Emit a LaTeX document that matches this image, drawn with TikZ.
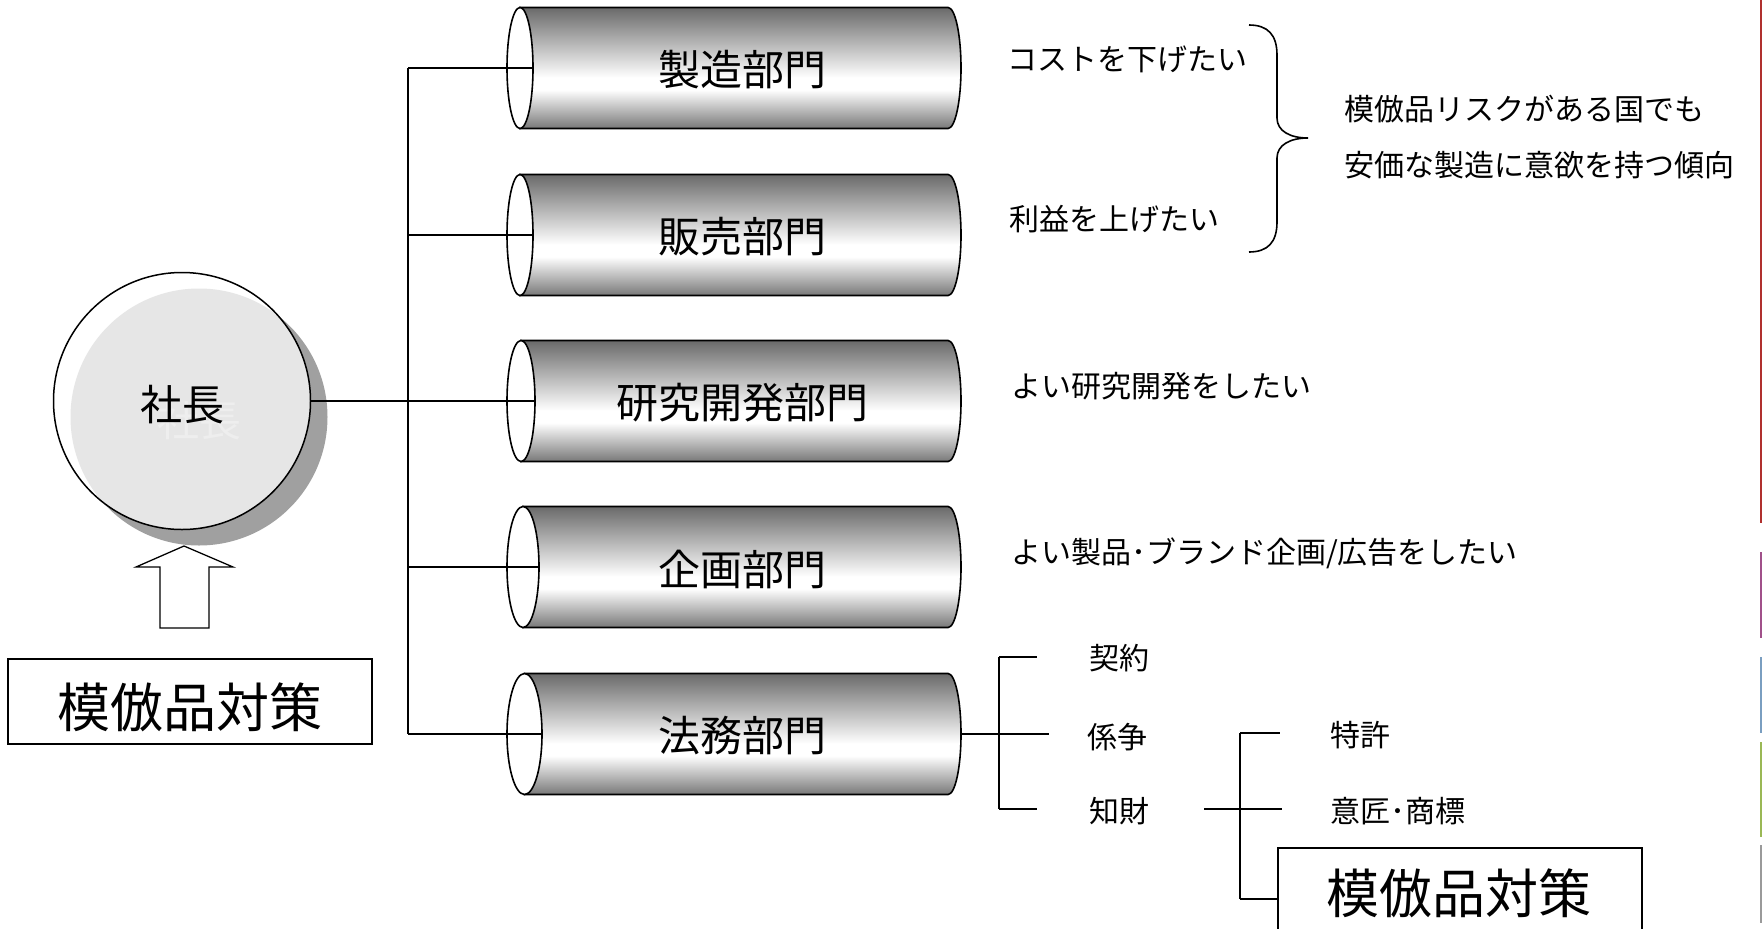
\documentclass[tikz,border=0pt]{standalone}
\usepackage{fontspec}
\setmainfont{Noto Sans CJK JP}
\definecolor{cyltop}{HTML}{6A6A6A}
\definecolor{cylbot}{HTML}{787878}
\definecolor{shadowgray}{HTML}{A0A0A0}
\definecolor{innergray}{HTML}{E6E6E6}
\definecolor{ghostgray}{HTML}{EEEEEE}
\definecolor{barred}{HTML}{B0302E}
\definecolor{barpurple}{HTML}{A0508A}
\definecolor{barblue}{HTML}{7A9EC0}
\definecolor{bargreen}{HTML}{9AB855}
\definecolor{bargray}{HTML}{9A9A9A}
\pgfdeclareverticalshading{cylshade}{100bp}{color(0bp)=(cylbot); color(25bp)=(cylbot); color(41bp)=(white); color(46bp)=(white); color(75bp)=(cyltop); color(100bp)=(cyltop)}
\tikzset{
  cyltext/.style={inner sep=0pt, font=\fontsize{42}{48}\selectfont},
  lbl/.style={inner sep=0pt, anchor=west, font=\fontsize{30}{36}\selectfont},
  bigtext/.style={inner sep=0pt, font=\fontsize{53}{60}\selectfont},
  branch/.style={line width=1.2pt},
  trunkline/.style={line width=1.5pt},
  thickline/.style={line width=2.2pt},
  bracket/.style={line width=1.6pt},
  outline/.style={line width=1.6pt},
  boxline/.style={draw, line width=1.3pt}
}
\newcommand{\cylnode}[4]{%
  \begin{scope}[shift={(0,#2)}]
    \shade[shading=cylshade, draw=black, outline]
      ({507+#3},-60.5) -- (948,-60.5)
      .. controls (955.2,-60.5) and (961,-33.4) .. (961,0)
      .. controls (961,33.4) and (955.2,60.5) .. (948,60.5)
      -- ({507+#3},60.5) -- cycle;
    \draw[outline, fill=white] ({507+#3},0) ellipse [x radius=#3, y radius=60.5];
    \node[cyltext] (#1) at (742,2) {#4};
    \coordinate (#1-in) at ({507+2*#3},0);
    \coordinate (#1-out) at (961,0);
    \coordinate (#1-t) at (408,0);
  \end{scope}}
\begin{document}
\begin{tikzpicture}[x=1pt,y=-1pt]
\useasboundingbox (0,0) rectangle (1762,929);
\clip (0,0) rectangle (1762,929);
\fill[white] (0,0) rectangle (1762,929);

% president circle
\fill[shadowgray] (199,417) circle[radius=128.5];
\begin{scope}
  \clip (182,401) circle[radius=128.5];
  \fill[white] (182,401) circle[radius=128.5];
  \fill[innergray] (199,417) circle[radius=128.5];
  \node[cyltext, text=ghostgray] (ghost) at (199,421) {社長};
\end{scope}
\node[circle, draw, line width=1.5pt, minimum size=257pt, inner sep=0pt] (boss) at (182,401) {};
\node[cyltext] (bosslabel) at (182,405) {社長};

% up arrow
\draw[line width=1.3pt, fill=white] (160,628) -- (160,567) -- (136,567) -- (184,546) -- (233,567) -- (209,567) -- (209,628) -- cycle;

% left box
\node[boxline, minimum width=364pt, minimum height=85pt, inner sep=0pt] (box1) at (190,701.5) {};
\node[bigtext] (box1txt) at (190,707) {模倣品対策};

% cylinders
\cylnode{c1}{68}{13}{製造部門}
\cylnode{c2}{235}{13}{販売部門}
\cylnode{c3}{401}{14}{研究開発部門}
\cylnode{c4}{567}{16}{企画部門}
\cylnode{c5}{734}{17.5}{法務部門}

% trunk and branches
\draw[thickline] (boss.east) -- (c3-t);
\draw[trunkline] (c1-t) -- (c5-t);
\draw[branch] (c1-t) -- (c1-in);
\draw[branch] (c2-t) -- (c2-in);
\draw[branch] (c3-t) -- (c3-in);
\draw[branch] (c4-t) -- (c4-in);
\draw[branch] (c5-t) -- (c5-in);

% right labels
\node[lbl] (cost) at (1007,59) {コストを下げたい};
\node[lbl] (rieki) at (1009,219) {利益を上げたい};
\node[lbl] (mohou) at (1344,109) {模倣品リスクがある国でも};
\node[lbl] (anka) at (1344,165) {安価な製造に意欲を持つ傾向};
\node[lbl] (kenkyu) at (1011,386) {よい研究開発をしたい};
\node[lbl] (kikaku) at (1011,553) {よい製品･ブランド企画/広告をしたい};

% brace
\coordinate (brtop) at (1249,25);
\coordinate (brtip) at (1308,138);
\coordinate (brbot) at (1249,252);
\draw[bracket] (brtop) .. controls (1268,25) and (1277,35) .. (1277,55) -- (1277,118)
  .. controls (1277,131) and (1290,138) .. (brtip)
  .. controls (1290,138) and (1277,145) .. (1277,158) -- (1277,222)
  .. controls (1277,242) and (1268,252) .. (brbot);

% legal sub-items
\node[lbl] (keiyaku) at (1089,658) {契約};
\node[lbl] (keiso) at (1087,737) {係争};
\node[lbl] (chizai) at (1089,811) {知財};
\coordinate (j1) at (999,734);
\coordinate (j1t) at (999,657);
\coordinate (j1b) at (999,809);
\coordinate (k1) at (1037,657);
\coordinate (k2) at (1049,734);
\coordinate (k3) at (1037,809);
\draw[thickline] (c5-out) -- (j1);
\draw[bracket] (j1t) -- (j1b);
\draw[bracket] (j1t) -- (k1);
\draw[bracket] (j1) -- (k2);
\draw[bracket] (j1b) -- (k3);

% IP sub-items
\node[lbl] (tokkyo) at (1330,735) {特許};
\node[lbl] (isho) at (1330,811) {意匠･商標};
\coordinate (m0) at (1204,809);
\coordinate (m1) at (1240,809);
\coordinate (m1t) at (1240,733);
\coordinate (m1b) at (1240,899);
\coordinate (n1) at (1280,733);
\coordinate (n2) at (1282,809);
\draw[thickline] (m0) -- (m1);
\draw[bracket] (m1t) -- (m1b);
\draw[bracket] (m1t) -- (n1);
\draw[bracket] (m1) -- (n2);

% right box
\node[boxline, minimum width=364pt, minimum height=85pt, inner sep=0pt] (box2) at (1460,890.5) {};
\node[bigtext] (box2txt) at (1459,893) {模倣品対策};
\draw[bracket] (m1b) -- (box2.west |- m1b);

% edge bars
\fill[barred] (1760,0) rectangle (1762,523);
\fill[barpurple] (1760,552) rectangle (1762,638);
\fill[barblue] (1760,657) rectangle (1762,733);
\fill[bargreen] (1760,742) rectangle (1762,837);
\fill[bargray] (1760,845) rectangle (1762,923);
\end{tikzpicture}
\end{document}
